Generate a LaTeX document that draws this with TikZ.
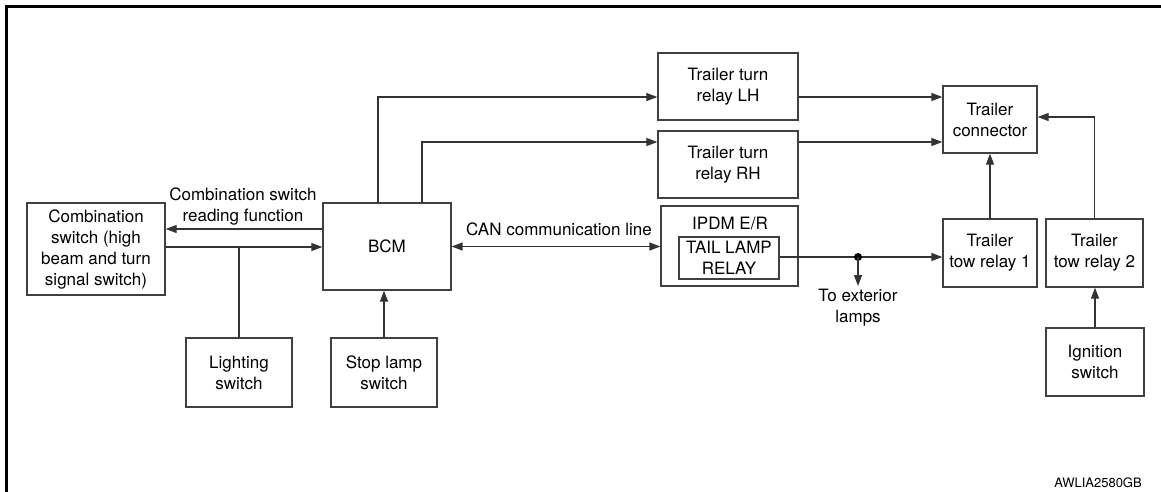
\documentclass[tikz,border=0pt]{standalone}
\usepackage{fontspec}
\setmainfont{TeX Gyre Heros}
\usetikzlibrary{arrows.meta}
\tikzset{
  lbl/.style={font=\fontsize{17}{21}\selectfont, align=center, inner sep=0pt},
  box/.style={lbl, draw=black!75, line width=1.3pt, fill=white},
  wire/.style={draw=black!80, line width=1.2pt},
  arr/.style={wire, -{Triangle[length=11pt,width=8pt]}},
  arrboth/.style={wire, line width=1.5pt, {Triangle[length=11pt,width=8pt]}-{Triangle[length=11pt,width=8pt]}},
}
\begin{document}
\begin{tikzpicture}[x=1pt, y=-1pt]
\useasboundingbox (0,0) rectangle (1161,491);
% outer frame (open to the right and bottom)
\draw[line width=3pt] (6,492) -- (6,6.5) -- (1162,6.5);

% blocks
\node[box, minimum width=138pt, minimum height=92pt] (comb) at (96,249)
  {Combination\\switch (high\\beam and turn\\signal switch)};
\node[box, minimum width=128pt, minimum height=87pt] (bcm) at (387,246.5) {BCM};
\node[box, minimum width=140pt, minimum height=67pt] (lh) at (728,86.5) {Trailer turn\\relay LH};
\node[box, minimum width=140pt, minimum height=67pt] (rh) at (728,164.5) {Trailer turn\\relay RH};
\node[box, minimum width=94pt, minimum height=67pt] (conn) at (990,119.5) {Trailer\\connector};
\node[box, minimum width=137pt, minimum height=80pt] (ipdm) at (729.5,246) {};
\node[lbl] (ipdmtitle) at (730,223) {IPDM E/R};
\node[box, minimum width=100pt, minimum height=42pt] (tail) at (729,258) {TAIL LAMP\\RELAY};
\node[box, minimum width=94pt, minimum height=68pt] (tow1) at (990,253) {Trailer\\tow relay 1};
\node[box, minimum width=97pt, minimum height=68pt] (tow2) at (1094.5,253) {Trailer\\tow relay 2};
\node[box, minimum width=98pt, minimum height=68pt] (ign) at (1095,362) {Ignition\\switch};
\node[box, minimum width=106pt, minimum height=69pt] (light) at (239,372.5) {Lighting\\switch};
\node[box, minimum width=106pt, minimum height=69pt] (stop) at (384,372.5) {Stop lamp\\switch};

% labels
\node[lbl] (readlbl) at (243,206.5) {Combination switch\\reading function};
\node[lbl] (canlbl) at (559,229) {CAN communication line};
\node[lbl, font=\fontsize{13}{15}\selectfont] (code) at (1098,483) {AWLIA2580GB};

% BCM outputs to the turn relays
\draw[arr] ([xshift=-9pt]bcm.north) |- ([yshift=-10.5pt]lh.west);
\draw[arr] ([xshift=35pt]bcm.north) |- ([yshift=22.5pt]rh.west);

% turn relays to trailer connector
\draw[arr] ([yshift=-10.5pt]lh.east) -- ([yshift=-10.5pt]lh.east -| conn.west);
\draw[arr] ([yshift=22.5pt]rh.east) -- ([yshift=22.5pt]rh.east -| conn.west);

% tow relays to trailer connector
\draw[arr] (tow1.north) -- (conn.south);
\draw[arr] (tow2.north) |- ([yshift=2.5pt]conn.east);
\draw[arr] (ign.north) -- (ign.north |- tow2.south);

% combination switch and BCM
\draw[arr] ([yshift=17.5pt]bcm.west) -- ([yshift=17.5pt]bcm.west -| comb.east);
\coordinate (cl) at ([yshift=2pt]comb.east);
\draw[arr] (cl) -- (cl -| bcm.west);
\draw[wire] (light.north) -- (light.north |- cl);
\draw[arr] (stop.north) -- (stop.north |- bcm.south);

% CAN line
\draw[arrboth] (bcm.east) -- (bcm.east -| ipdm.west);

% tail lamp relay output
\coordinate (tl) at ([yshift=1pt]tail.east);
\coordinate (dot) at (858,257);
\coordinate (ext) at (858,286);
\draw[arr] (tl) -- (tl -| tow1.west);
\fill[black] (dot) circle (4pt);
\draw[arr] (dot) -- (ext);
\node[lbl, anchor=north] (extlbl) at ([yshift=-3pt]ext) {To exterior\\lamps};
\end{tikzpicture}
\end{document}
